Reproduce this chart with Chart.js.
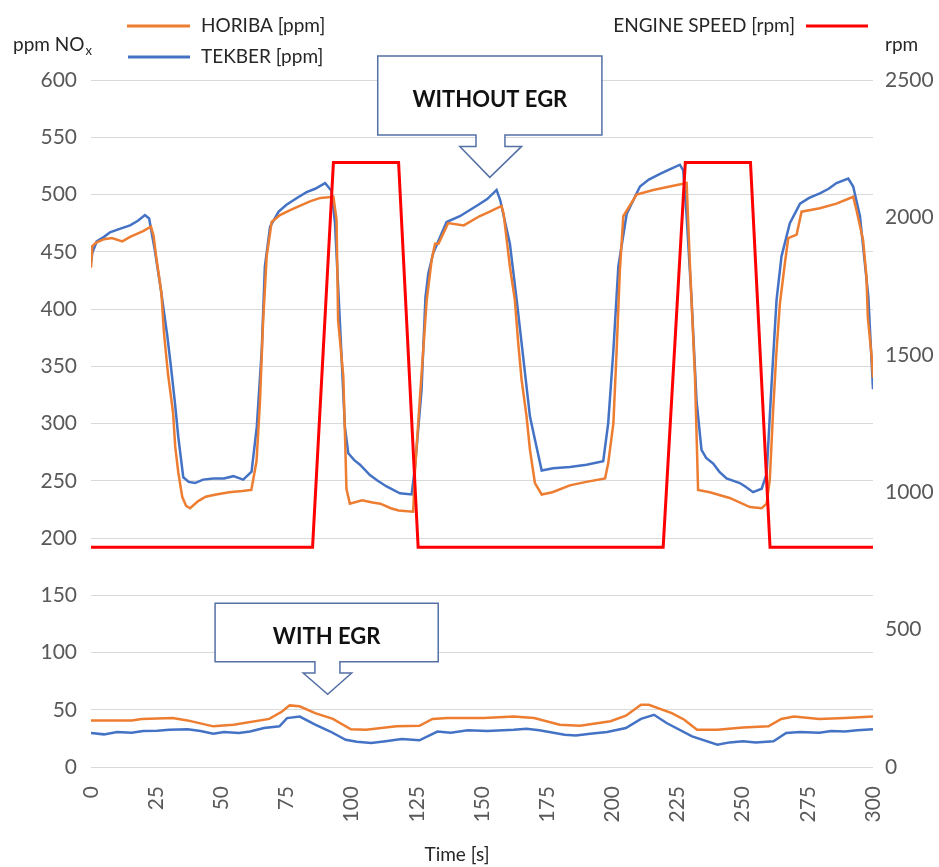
<!DOCTYPE html>
<html>
<head>
<meta charset="utf-8">
<script src="https://cdn.jsdelivr.net/npm/chart.js@4.4.0/dist/chart.umd.min.js"></script>
<style>
  html, body { margin: 0; padding: 0; background: #fff; }
  #wrap { width: 939px; height: 867px; }
</style>
</head>
<body>
<div id="wrap"><canvas id="myChart" width="939" height="867"></canvas></div>
<script>
// time axis ticks
const timeTicks = [0, 25, 50, 75, 100, 125, 150, 175, 200, 225, 250, 275, 300];

// engine speed [rpm]
const speedTime = [0, 85, 93, 118, 125.5, 219.5, 228, 253, 260.5, 300];
const speedRpm  = [800, 800, 2200, 2200, 800, 800, 2200, 2200, 800, 800];

// HORIBA without EGR [ppm]
const horibaTime = [0, 0.5, 2, 5, 8, 12, 15, 20, 23, 24, 25, 27, 28, 29.5, 31.5, 32.3, 33.5, 35, 36.5, 38,
  41, 44, 48, 53, 58, 61.5, 63.5, 64.8, 66, 67.4, 69.3, 72.5, 76, 79, 84, 88, 93, 94.2, 94.8, 96.8,
  97.4, 98, 99.3, 104, 108, 111, 115, 118, 123.6, 124.3, 126.2, 128.8, 130.7, 132, 133.3, 137, 143, 149, 153, 157.5,
  158.3, 160.7, 162.6, 163.9, 165.2, 167.1, 168.4, 170.3, 172.9, 177, 183.7, 190, 197.2, 198.4, 200.4, 201.6, 202.9, 204.2, 209.3, 215.7,
  222, 228.5, 229.8, 231.7, 232.9, 237.4, 245, 252.8, 257.3, 259.2, 260.4, 261.7, 263, 264.3, 266.2, 267.5, 270.7, 272.6, 279.6, 286,
  292.4, 293.7, 296.2, 297.5, 298, 299.5, 300];
const horibaPpm = [436, 455, 458, 461, 462, 459, 463, 468, 472, 464, 446, 414, 379, 344, 309, 280, 257, 236, 228, 226,
  232, 236, 238, 240, 241, 242, 267, 318, 388, 446, 476, 482, 486, 489, 494, 497, 498, 478, 390, 341,
  293, 243, 230, 233, 231, 230, 226, 224, 223, 259, 323, 408, 443, 457, 457, 475, 473, 481, 485, 490,
  483, 437, 408, 370, 338, 306, 277, 248, 238, 240, 246, 249, 252, 265, 300, 361, 434, 481, 500, 504,
  507, 510, 437, 341, 242, 240, 235, 227, 226, 230, 251, 312, 364, 405, 440, 462, 465, 485, 488, 492,
  498, 486, 460, 428, 393, 358, 340];

// TEKBER without EGR [ppm]
const tekberTime = [0, 0.5, 2.2, 5, 7.3, 11, 15, 18, 20.7, 22.3, 24.5, 26.8, 29.3, 30.6, 32.2, 33.5, 35.4, 37.5, 39.9, 43,
  46.9, 51, 54.6, 58.4, 61.6, 63.6, 65.5, 66.7, 68.7, 72, 75, 79, 82.7, 86, 89.8, 92.3, 93.6, 95.5, 97.4, 98.7,
  101, 103.2, 107, 110, 113.4, 118.5, 123, 124.3, 126.8, 128.3, 129.4, 131.3, 136.4, 141.5, 148.6, 152, 155.6, 157, 160.7, 163.3,
  165.8, 168.4, 170.3, 172.9, 177.3, 183.7, 190.1, 196.5, 198.4, 200.4, 202.3, 205.5, 210.6, 214, 218.3, 222, 225.9, 227.2, 228.5, 230.4,
  232.3, 234.2, 236, 238.7, 241, 243.8, 248.9, 251, 254, 257.3, 259.2, 261.1, 263, 264.9, 268.1, 272, 275.5, 279.6, 283, 286,
  290.5, 292.4, 295, 298.2, 300];
const tekberPpm = [440, 449, 459, 463, 467, 470, 473, 477, 482, 479, 451, 417, 376, 351, 318, 288, 253, 249, 248, 251,
  252, 252, 254, 251, 258, 297, 364, 437, 472, 485, 491, 497, 502, 505, 510, 503, 475, 388, 297, 274,
  268, 264, 255, 250, 245, 239, 238, 262, 329, 410, 431, 449, 476, 481, 491, 496, 504, 495, 457, 408,
  358, 306, 286, 259, 261, 262, 264, 267, 300, 364, 437, 483, 507, 513, 518, 522, 526, 521, 481, 408,
  320, 277, 270, 265, 258, 252, 248, 245, 240, 243, 256, 335, 408, 446, 475, 492, 497, 501, 505, 510,
  514, 507, 481, 411, 330];

// HORIBA with EGR [ppm]
const horibaEgrTime = [0, 15.6, 19.5, 31.3, 37, 46.9, 54.7, 68.4, 73.3, 76.2, 80, 86, 92.8, 99.7, 105.5, 117.2, 126, 131, 136.8, 150.5,
  162.2, 170, 179.8, 187.6, 199.3, 205.2, 211, 214, 222.8, 227.6, 232.5, 240.3, 250.1, 259.9, 264.8, 269.7, 279.4, 289.2, 300];
const horibaEgrPpm = [40.7, 40.7, 42, 42.7, 40.7, 35.5, 37, 42, 48.5, 53.8, 53, 47, 42, 33, 32.5, 35.5, 36, 42, 42.7, 42.7,
  44, 42.7, 37, 36, 40, 44.8, 54.4, 54.4, 47, 41.3, 32.5, 32.5, 34.6, 35.5, 42, 44, 42, 42.7, 44];

// TEKBER with EGR [ppm]
const tekberEgrTime = [0, 5, 10, 15.6, 20, 25.4, 30, 37.1, 42, 46.9, 51, 56.7, 61, 66.4, 72.3, 75.2, 80.1, 86, 91.8, 97.7,
  102, 107.5, 113, 119.2, 126, 132.9, 138, 144.6, 152, 162.2, 167, 172, 181.7, 186, 191.5, 198, 205.2, 211, 216, 220.8,
  230.6, 240.3, 245, 250.1, 255, 261.8, 266.7, 272, 279.4, 284, 289.2, 294, 300];
const tekberEgrPpm = [29.7, 28.5, 30.5, 30, 31.5, 31.7, 32.5, 33, 31.5, 29, 30.5, 29.7, 31, 34, 35.5, 42.7, 44, 37, 31, 23.8,
  22, 21, 22.5, 24.4, 23.3, 31, 30, 32, 31.5, 32.6, 33.5, 32, 28.2, 27.5, 29, 30.5, 34, 42, 45.6, 38.4,
  26.7, 19.5, 21.5, 22.4, 21.5, 22.4, 29.7, 30.5, 30, 31.5, 31, 32, 33];

function zip(xs, ys) {
  return xs.map(function(x, i) { return { x: x, y: ys[i] }; });
}

const FONT = 'Lato, "Open Sans", sans-serif';
const ORANGE = '#ED7D31';
const BLUE = '#4472C4';
const RED = '#FF0000';
const BOXCOLOR = '#5470A5';

// legend, axis titles and the two callouts
const decorPlugin = {
  id: 'decor',
  afterDraw: function(chart) {
    const ctx = chart.ctx;
    const x = chart.scales.x;
    const y = chart.scales.y;
    ctx.save();

    // legend
    ctx.lineWidth = 3;
    ctx.strokeStyle = ORANGE;
    ctx.beginPath(); ctx.moveTo(127, 26); ctx.lineTo(190, 26); ctx.stroke();
    ctx.strokeStyle = BLUE;
    ctx.beginPath(); ctx.moveTo(128, 57); ctx.lineTo(190, 57); ctx.stroke();
    ctx.strokeStyle = RED;
    ctx.beginPath(); ctx.moveTo(806, 26); ctx.lineTo(868, 26); ctx.stroke();

    ctx.fillStyle = '#262626';
    ctx.font = '19px ' + FONT;
    ctx.textBaseline = 'middle';
    ctx.textAlign = 'left';
    ctx.fillText('HORIBA [ppm]', 201, 26);
    ctx.fillText('TEKBER [ppm]', 201, 57);
    ctx.textAlign = 'right';
    ctx.fillText('ENGINE SPEED [rpm]', 795, 26);

    // axis titles
    ctx.textAlign = 'left';
    ctx.textBaseline = 'alphabetic';
    ctx.fillText('ppm NO', 13, 51);
    const w = ctx.measureText('ppm NO').width;
    ctx.font = '13px ' + FONT;
    ctx.fillText('x', 13 + w + 1, 55);
    ctx.font = '19px ' + FONT;
    ctx.fillText('rpm', 885, 51);
    ctx.textAlign = 'center';
    ctx.fillText('Time [s]', 457, 861);

    // callouts: box + arrow, in data units
    const callouts = [
      { text: 'WITHOUT EGR', t0: 110, t1: 196, top: 621, bottom: 552, neck: 542, tip: 515,
        n0: 147.7, n1: 158.8, h0: 141.5, h1: 165.2, tt: 153 },
      { text: 'WITH EGR', t0: 47.6, t1: 133.2, top: 143, bottom: 92, neck: 82, tip: 63.5,
        n0: 85.9, n1: 95.5, h0: 81.4, h1: 100, tt: 90.8 }
    ];
    callouts.forEach(function(c) {
      const px = function(v) { return x.getPixelForValue(v); };
      const py = function(v) { return y.getPixelForValue(v); };
      ctx.beginPath();
      ctx.moveTo(px(c.t0), py(c.top));
      ctx.lineTo(px(c.t1), py(c.top));
      ctx.lineTo(px(c.t1), py(c.bottom));
      ctx.lineTo(px(c.n1), py(c.bottom));
      ctx.lineTo(px(c.n1), py(c.neck));
      ctx.lineTo(px(c.h1), py(c.neck));
      ctx.lineTo(px(c.tt), py(c.tip));
      ctx.lineTo(px(c.h0), py(c.neck));
      ctx.lineTo(px(c.n0), py(c.neck));
      ctx.lineTo(px(c.n0), py(c.bottom));
      ctx.lineTo(px(c.t0), py(c.bottom));
      ctx.closePath();
      ctx.fillStyle = '#ffffff';
      ctx.fill();
      ctx.lineWidth = 1.5;
      ctx.strokeStyle = BOXCOLOR;
      ctx.stroke();
      ctx.fillStyle = '#111111';
      ctx.font = 'bold 22px ' + FONT;
      ctx.textAlign = 'center';
      ctx.textBaseline = 'middle';
      ctx.fillText(c.text, (px(c.t0) + px(c.t1)) / 2, (py(c.top) + py(c.bottom)) / 2 + 4);
    });

    ctx.restore();
  }
};

const ctx = document.getElementById('myChart').getContext('2d');
const myChart = new Chart(ctx, {
  type: 'line',
  data: {
    datasets: [{
      label: 'ENGINE SPEED [rpm]',
      data: zip(speedTime, speedRpm),
      borderColor: RED,
      borderWidth: 3,
      yAxisID: 'y1'
    }, {
      label: 'HORIBA [ppm]',
      data: zip(horibaTime, horibaPpm),
      borderColor: ORANGE,
      borderWidth: 2.5,
      yAxisID: 'y'
    }, {
      label: 'TEKBER [ppm]',
      data: zip(tekberTime, tekberPpm),
      borderColor: BLUE,
      borderWidth: 2.5,
      yAxisID: 'y'
    }, {
      label: 'HORIBA with EGR',
      data: zip(horibaEgrTime, horibaEgrPpm),
      borderColor: ORANGE,
      borderWidth: 2.5,
      yAxisID: 'y'
    }, {
      label: 'TEKBER with EGR',
      data: zip(tekberEgrTime, tekberEgrPpm),
      borderColor: BLUE,
      borderWidth: 2.5,
      yAxisID: 'y'
    }]
  },
  options: {
    responsive: false,
    animation: false,
    elements: {
      point: { radius: 0 },
      line: { tension: 0, fill: false }
    },
    layout: { padding: { top: 80, left: 0, right: 0, bottom: 0 } },
    plugins: {
      legend: { display: false },
      tooltip: { enabled: false }
    },
    scales: {
      x: {
        type: 'linear',
        min: 0,
        max: 300,
        afterBuildTicks: function(scale) {
          scale.ticks = timeTicks.map(function(v) { return { value: v }; });
        },
        afterFit: function(scale) { scale.height = 100; },
        grid: { display: false, drawTicks: false },
        border: { display: false },
        ticks: {
          minRotation: 90,
          maxRotation: 90,
          padding: 19,
          color: '#595959',
          font: { size: 21, family: FONT },
          callback: function(v) { return String(v); }
        }
      },
      y: {
        position: 'left',
        min: 0,
        max: 600,
        afterFit: function(scale) { scale.width = 91; },
        grid: { color: '#d9d9d9', lineWidth: 1, drawTicks: false },
        border: { display: false },
        ticks: {
          stepSize: 50,
          padding: 14,
          color: '#595959',
          font: { size: 21, family: FONT },
          callback: function(v) { return String(v); }
        }
      },
      y1: {
        position: 'right',
        min: 0,
        max: 2500,
        afterFit: function(scale) { scale.width = 66; },
        grid: { display: false, drawTicks: false },
        border: { display: false },
        ticks: {
          stepSize: 500,
          padding: 12,
          color: '#595959',
          font: { size: 21, family: FONT },
          callback: function(v) { return String(v); }
        }
      }
    }
  },
  plugins: [decorPlugin]
});
</script>
</body>
</html>
